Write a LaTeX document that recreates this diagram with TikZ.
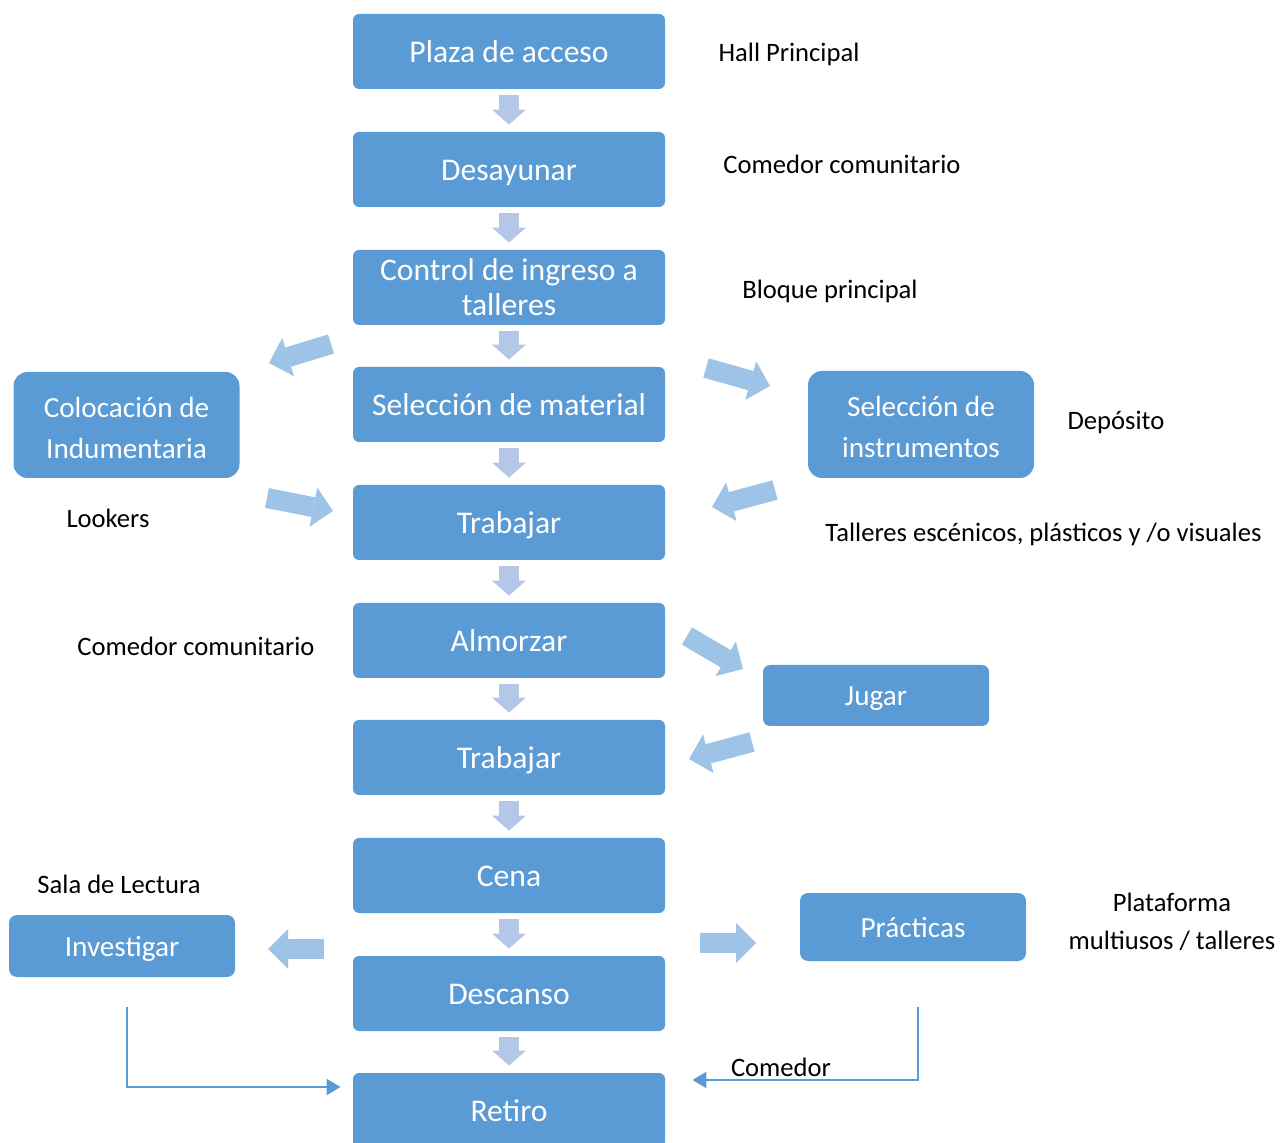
\documentclass[tikz,border=0pt]{standalone}
\usepackage{fontspec}
\setmainfont{Carlito}
\usetikzlibrary{arrows.meta}
\definecolor{boxblue}{RGB}{91,155,213}
\definecolor{arrowblue}{RGB}{157,195,230}
\definecolor{downblue}{RGB}{180,199,231}
\begin{document}
\begin{tikzpicture}[x=0.5pt,y=-0.5pt,
 mainbox/.style={fill=boxblue, rounded corners=3pt, minimum width=156pt, minimum height=37.5pt, text=white, font=\fontsize{15.8}{17.5}\selectfont, align=center, inner sep=0pt},
 mainone/.style={mainbox, text height=11.2pt, text depth=0pt},
 sidebox/.style={fill=boxblue, rounded corners=6pt, minimum width=113pt, text=white, font=\fontsize{14.6}{20.5}\selectfont, align=center, inner sep=0pt},
 sideone/.style={sidebox, text height=10.4pt, text depth=0pt},
 lbl/.style={font=\fontsize{13.3}{19}\selectfont, inner sep=0pt, align=center},
 downarrow/.style={draw=downblue, line width=10pt, -{Triangle[length=7.5pt,width=17pt,line width=0pt]}, shorten <=3pt, shorten >=3.5pt},
 blockarrow/.style={draw=arrowblue, line width=10pt, -{Triangle[length=10pt,width=20pt,line width=0pt]}},
 conn/.style={draw=boxblue, line width=1pt, -{Triangle[length=7pt,width=8pt]}}]
\useasboundingbox (0,0) rectangle (1280,1143);
% main column
\node[mainone] (m1) at (509,51.5) {Plaza de acceso};
\node[mainone] (m2) at (509,169.5) {Desayunar};
\node[mainbox] (m3) at (509,287.5) {Control de ingreso a\\talleres};
\node[mainone] (m4) at (509,404.5) {Selección de material};
\node[mainone] (m5) at (509,522.5) {Trabajar};
\node[mainone] (m6) at (509,640.5) {Almorzar};
\node[mainone] (m7) at (509,757.5) {Trabajar};
\node[mainone] (m8) at (509,875.5) {Cena};
\node[mainone] (m9) at (509,993.5) {Descanso};
\node[mainone] (m10) at (509,1110.5) {Retiro};
\foreach \a/\b in {m1/m2,m2/m3,m3/m4,m4/m5,m5/m6,m6/m7,m7/m8,m8/m9,m9/m10}
  \draw[downarrow] (\a.south) -- (\b.north);
% side boxes
\node[sidebox, minimum height=53pt, rounded corners=7pt] (s1) at (126.5,425) {\rule{0pt}{13pt}Colocación de\\Indumentaria};
\node[sidebox, minimum height=53.5pt, rounded corners=7pt] (s2) at (921,424.5) {\rule{0pt}{13pt}Selección de\\instrumentos};
\node[sideone, minimum height=30.5pt, rounded corners=3.5pt] (s3) at (876,695.5) {Jugar};
\node[sideone, minimum height=31pt, rounded corners=4pt] (s4) at (122,946) {Investigar};
\node[sideone, minimum height=34pt, rounded corners=4pt] (s5) at (913,927) {Prácticas};
% labels
\node[lbl] (l1) at (789,54) {Hall Principal};
\node[lbl] (l2) at (842,164) {Comedor comunitario};
\node[lbl] (l3) at (830,291) {Bloque principal};
\node[lbl] (l4) at (1116,422) {Depósito};
\node[lbl] (l5) at (108,518) {Lookers};
\node[lbl] (l6) at (1043.5,534) {Talleres escénicos, plásticos y /o visuales};
\node[lbl] (l7) at (196,646) {Comedor comunitario};
\begin{scope}
\clip (0,860) rectangle (250,892);
\node[lbl] (l8) at (119,884.5) {Sala de Lectura};
\end{scope}
\node[lbl] (l9) at (1172,922) {Plataforma\\multiusos / talleres};
\node[lbl] (l10) at (781,1067) {Comedor};
% block arrows
\coordinate (b1s) at (331,344); \coordinate (b1e) at (269,363);
\coordinate (b2s) at (267,498); \coordinate (b2e) at (333,511);
\coordinate (b3s) at (706,368); \coordinate (b3e) at (770,386);
\coordinate (b4s) at (775,490); \coordinate (b4e) at (712,507);
\coordinate (b5s) at (687,636); \coordinate (b5e) at (743,669);
\coordinate (b6s) at (752,742); \coordinate (b6e) at (689,759);
\coordinate (b7s) at (324,949); \coordinate (b7e) at (268,949);
\coordinate (b8s) at (700,943); \coordinate (b8e) at (756,943);
\foreach \i in {1,...,8}
  \draw[blockarrow] (b\i s) -- (b\i e);
% line connectors
\coordinate (c1) at (127,1007);
\coordinate (c2) at (918,1007);
\draw[conn] (c1) |- ([shift={(-6pt,11.75pt)}]m10.west);
\draw[conn] (c2) |- ([shift={(13.5pt,15.25pt)}]m10.east);
\end{tikzpicture}
\end{document}
